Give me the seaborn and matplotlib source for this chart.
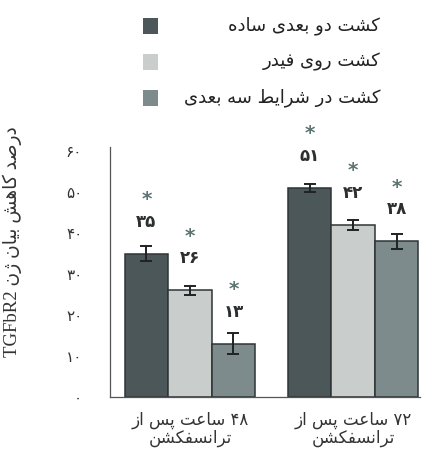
import matplotlib
matplotlib.use("Agg")
import matplotlib.pyplot as plt
import numpy as np
import pandas as pd
import seaborn as sns
from matplotlib.patches import Rectangle

# ---- data -------------------------------------------------------------
groups = ["۴۸ ساعت پس از\nترانسفکشن", "۷۲ ساعت پس از\nترانسفکشن"]
series = ["کشت دو بعدی ساده", "کشت روی فیدر", "کشت در شرایط سه بعدی"]
values_2d = [35, 51]
values_feeder = [26, 42]
values_3d = [13, 38]
errors_2d = [1.8, 1.0]
errors_feeder = [1.2, 1.2]
errors_3d = [2.5, 1.8]
y_ticks = [0, 10, 20, 30, 40, 50, 60]
y_label = "درصد کاهش بیان ژن TGFbR2"

colors = ["#4c5759", "#c9cdcc", "#7e8b8c"]

# ---- minimal Persian shaping (contextual forms + visual order) ---------
FORMS = {
    "ا": ("\uFE8D", "\uFE8E"), "آ": ("\uFE81", "\uFE82"),
    "د": ("\uFEA9", "\uFEAA"), "ذ": ("\uFEAB", "\uFEAC"),
    "ر": ("\uFEAD", "\uFEAE"), "ز": ("\uFEAF", "\uFEB0"),
    "ژ": ("\uFB8A", "\uFB8B"), "و": ("\uFEED", "\uFEEE"),
    "ب": ("\uFE8F", "\uFE90", "\uFE91", "\uFE92"),
    "پ": ("\uFB56", "\uFB57", "\uFB58", "\uFB59"),
    "ت": ("\uFE95", "\uFE96", "\uFE97", "\uFE98"),
    "ث": ("\uFE99", "\uFE9A", "\uFE9B", "\uFE9C"),
    "ج": ("\uFE9D", "\uFE9E", "\uFE9F", "\uFEA0"),
    "چ": ("\uFB7A", "\uFB7B", "\uFB7C", "\uFB7D"),
    "ح": ("\uFEA1", "\uFEA2", "\uFEA3", "\uFEA4"),
    "خ": ("\uFEA5", "\uFEA6", "\uFEA7", "\uFEA8"),
    "س": ("\uFEB1", "\uFEB2", "\uFEB3", "\uFEB4"),
    "ش": ("\uFEB5", "\uFEB6", "\uFEB7", "\uFEB8"),
    "ص": ("\uFEB9", "\uFEBA", "\uFEBB", "\uFEBC"),
    "ض": ("\uFEBD", "\uFEBE", "\uFEBF", "\uFEC0"),
    "ط": ("\uFEC1", "\uFEC2", "\uFEC3", "\uFEC4"),
    "ظ": ("\uFEC5", "\uFEC6", "\uFEC7", "\uFEC8"),
    "ع": ("\uFEC9", "\uFECA", "\uFECB", "\uFECC"),
    "غ": ("\uFECD", "\uFECE", "\uFECF", "\uFED0"),
    "ف": ("\uFED1", "\uFED2", "\uFED3", "\uFED4"),
    "ق": ("\uFED5", "\uFED6", "\uFED7", "\uFED8"),
    "ک": ("\uFB8E", "\uFB8F", "\uFB90", "\uFB91"),
    "گ": ("\uFB92", "\uFB93", "\uFB94", "\uFB95"),
    "ل": ("\uFEDD", "\uFEDE", "\uFEDF", "\uFEE0"),
    "م": ("\uFEE1", "\uFEE2", "\uFEE3", "\uFEE4"),
    "ن": ("\uFEE5", "\uFEE6", "\uFEE7", "\uFEE8"),
    "ه": ("\uFEE9", "\uFEEA", "\uFEEB", "\uFEEC"),
    "ی": ("\uFBFC", "\uFBFD", "\uFBFE", "\uFBFF"),
}


def _shape_word(word):
    out = []
    for i, ch in enumerate(word):
        f = FORMS.get(ch)
        if f is None:
            out.append(ch)
            continue
        prev = word[i - 1] if i > 0 else None
        nxt = word[i + 1] if i + 1 < len(word) else None
        join_prev = prev in FORMS and len(FORMS[prev]) == 4
        join_next = len(f) == 4 and nxt in FORMS
        if len(f) == 2:
            out.append(f[1] if join_prev else f[0])
        elif join_prev and join_next:
            out.append(f[3])
        elif join_prev:
            out.append(f[1])
        elif join_next:
            out.append(f[2])
        else:
            out.append(f[0])
    return "".join(reversed(out))


def rtl(text):
    lines = []
    for line in text.split("\n"):
        words = line.split(" ")
        vis = [_shape_word(w) if any(c in FORMS for c in w) else w for w in words]
        lines.append(" ".join(reversed(vis)))
    return "\n".join(lines)


def fa_num(v):
    return str(v).translate(str.maketrans("0123456789", "۰۱۲۳۴۵۶۷۸۹"))


# ---- figure -------------------------------------------------------------
sns.set_theme(style="white")
plt.rcParams["font.family"] = ["DejaVu Sans"]

fig = plt.figure(figsize=(4.25, 4.72), dpi=100)
ax = fig.add_axes([110 / 425, 1 - 397 / 472, 310 / 425, 250 / 472])

group_labels = [rtl(g) for g in groups]
series_labels = [rtl(s) for s in series]
df = pd.DataFrame({
    "group": group_labels * 3,
    "series": [series_labels[0]] * 2 + [series_labels[1]] * 2 + [series_labels[2]] * 2,
    "value": values_2d + values_feeder + values_3d,
})

sns.barplot(data=df, x="group", y="value", hue="series", order=group_labels,
            hue_order=series_labels, palette=colors, width=0.8, errorbar=None,
            edgecolor="#2e3436", linewidth=1.1, saturation=1, legend=False, ax=ax)

all_vals = [values_2d, values_feeder, values_3d]
all_errs = [errors_2d, errors_feeder, errors_3d]
for cont, vals, errs in zip(ax.containers, all_vals, all_errs):
    xs = [b.get_x() + b.get_width() / 2 for b in cont]
    ax.errorbar(xs, vals, yerr=errs, fmt="none", ecolor="#1f2324",
                elinewidth=1.4, capsize=4.5, capthick=1.4, zorder=5)
    for x, v in zip(xs, vals):
        ax.text(x, v + 7.8, fa_num(v), ha="center", va="center",
                fontsize=12, fontweight="bold", color="#2b2f30")
        ax.text(x, v + 13.2, "*", ha="center", va="center",
                fontsize=14.5, fontweight="bold", color="#5b7371")

ax.set_xlim(-0.49, 1.41)
ax.set_ylim(0, 61)
ax.set_yticks(y_ticks)
ax.set_yticklabels([fa_num(t) for t in y_ticks], fontsize=11, color="#333333")
ax.tick_params(axis="y", length=0, pad=20)
ax.tick_params(axis="x", length=0, pad=10, labelsize=12, labelcolor="#333333")
for lbl in ax.get_xticklabels():
    lbl.set_linespacing(1.0)
ax.set_xlabel("")
ax.set_ylabel(rtl(y_label), fontsize=13.5, color="#333333",
              family=["Liberation Serif", "DejaVu Sans"])
ax.yaxis.set_label_coords(-0.285, 0.62)

for side in ["top", "right"]:
    ax.spines[side].set_visible(False)
for side in ["left", "bottom"]:
    ax.spines[side].set_color("#555555")
    ax.spines[side].set_linewidth(0.9)

# legend: swatches on the left, right-aligned labels
legend_y = [26, 62, 98]
for lab, col, ypx in zip(series_labels, colors, legend_y):
    fig.add_artist(Rectangle((143 / 425, 1 - (ypx + 7.5) / 472), 15 / 425, 15 / 472,
                             transform=fig.transFigure, facecolor=col,
                             edgecolor="none"))
    fig.text(380 / 425, 1 - ypx / 472, lab, ha="right", va="center",
             fontsize=13, color="#222222")

fig.savefig("out.png", dpi=100, facecolor="white")
